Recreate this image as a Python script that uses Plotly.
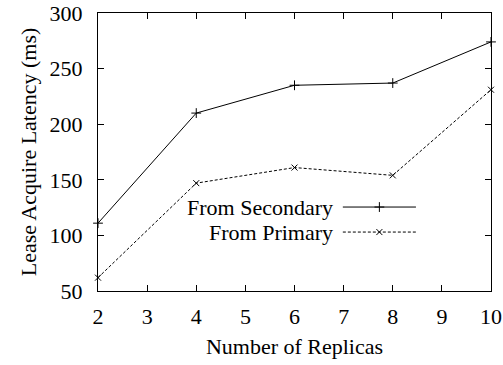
import plotly.graph_objects as go

replicas = [2, 4, 6, 8, 10]
from_secondary = [111, 210, 235, 237, 274]
from_primary = [62, 147, 161, 154, 231]
series_names = ["From Secondary", "From Primary"]
x_ticks = [2, 3, 4, 5, 6, 7, 8, 9, 10]
y_ticks = [50, 100, 150, 200, 250, 300]

FONT = "'Liberation Serif', 'Times New Roman', Times, serif"
FS = 22

fig = go.Figure()
fig.add_trace(go.Scatter(
    x=replicas, y=from_secondary, mode="lines+markers", name=series_names[0],
    line=dict(color="black", width=1),
    marker=dict(symbol="cross-thin", size=7, line=dict(color="black", width=1)),
    showlegend=False, cliponaxis=False))
fig.add_trace(go.Scatter(
    x=replicas, y=from_primary, mode="lines+markers", name=series_names[1],
    line=dict(color="black", width=1, dash="3px,2px"),
    marker=dict(symbol="x-thin", size=6, line=dict(color="black", width=1)),
    showlegend=False, cliponaxis=False))

# custom gnuplot-style legend (key samples on overlay axis in [0,1] units)
key_x = [0.623, 0.716, 0.809]
key_y = [0.302, 0.212]
styles = [("solid", "cross-thin", 7), ("3px,2px", "x-thin", 6)]
for name, ky, (dash, sym, sz) in zip(series_names, key_y, styles):
    fig.add_trace(go.Scatter(
        x=[key_x[0], key_x[2]], y=[ky, ky], mode="lines", xaxis="x2", yaxis="y2",
        line=dict(color="black", width=1, dash=dash), showlegend=False, hoverinfo="skip"))
    fig.add_trace(go.Scatter(
        x=[key_x[1]], y=[ky], mode="markers", xaxis="x2", yaxis="y2",
        marker=dict(symbol=sym, size=sz, line=dict(color="black", width=1)),
        showlegend=False, hoverinfo="skip"))
    fig.add_annotation(x=0.603, y=ky, xref="x2", yref="y2", text=name,
                       showarrow=False, xanchor="right", yanchor="middle",
                       font=dict(family=FONT, size=FS, color="black"))

axis_common = dict(showline=True, linecolor="black", linewidth=1, mirror="allticks",
                   ticks="inside", ticklen=6, tickcolor="black", tickwidth=1,
                   showgrid=False, zeroline=False, automargin=False,
                   tickfont=dict(family=FONT, size=FS, color="black"))

fig.update_layout(
    width=503, height=365,
    margin=dict(l=98, r=12, t=13, b=74),
    paper_bgcolor="white", plot_bgcolor="white",
    font=dict(family=FONT, size=FS, color="black"),
    xaxis=dict(range=[2, 10], tickvals=x_ticks, ticklabelstandoff=6,
               title=dict(text="Number of Replicas", standoff=10,
                          font=dict(family=FONT, size=FS, color="black")),
               **axis_common),
    yaxis=dict(range=[50, 300], tickvals=y_ticks, ticklabelstandoff=10,
               title=dict(text="Lease Acquire Latency (ms)", standoff=6,
                          font=dict(family=FONT, size=FS, color="black")),
               **axis_common),
    xaxis2=dict(range=[0, 1], overlaying="x", visible=False, fixedrange=True),
    yaxis2=dict(range=[0, 1], overlaying="y", visible=False, fixedrange=True),
)

fig.write_html("out.html")
